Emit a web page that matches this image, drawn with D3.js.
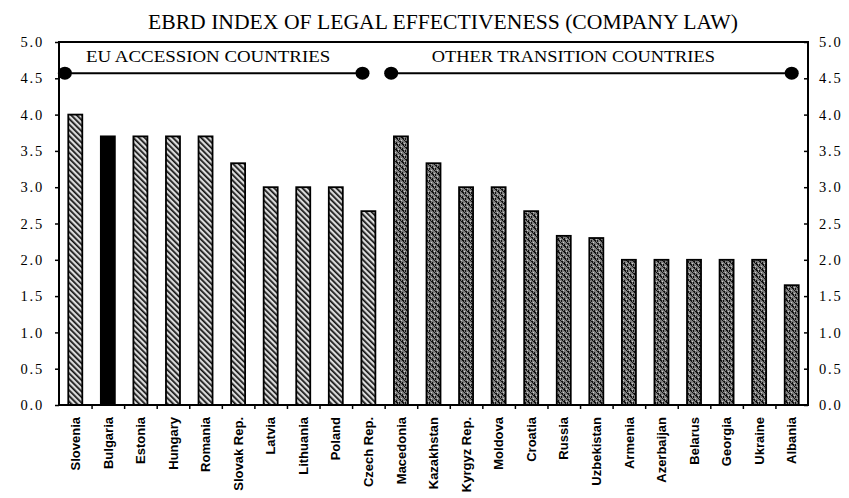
<!DOCTYPE html>
<html>
<head>
<meta charset="utf-8">
<script src="https://cdn.jsdelivr.net/npm/d3@7"></script>
<style>
  html, body { margin: 0; padding: 0; background: #fff; }
  svg { display: block; }
</style>
</head>
<body>
<svg id="chart" width="849" height="498"></svg>
<script>
// EBRD index of legal effectiveness (company law), by country
const categories = [
  "Slovenia", "Bulgaria", "Estonia", "Hungary", "Romania", "Slovak Rep.",
  "Latvia", "Lithuania", "Poland", "Czech Rep.",
  "Macedonia", "Kazakhstan", "Kyrgyz Rep.", "Moldova", "Croatia", "Russia",
  "Uzbekistan", "Armenia", "Azerbaijan", "Belarus", "Georgia", "Ukraine", "Albania"
];
const values = [
  4.0, 3.7, 3.7, 3.7, 3.7, 3.33,
  3.0, 3.0, 3.0, 2.67,
  3.7, 3.33, 3.0, 3.0, 2.67, 2.33,
  2.3, 2.0, 2.0, 2.0, 2.0, 2.0, 1.65
];
const groupOf = [
  "eu", "eu", "eu", "eu", "eu", "eu", "eu", "eu", "eu", "eu",
  "other", "other", "other", "other", "other", "other", "other",
  "other", "other", "other", "other", "other", "other"
];
const highlighted = ["Bulgaria"];
const groupLabels = ["EU ACCESSION COUNTRIES", "OTHER TRANSITION COUNTRIES"];
const yTicks = [0, 0.5, 1, 1.5, 2, 2.5, 3, 3.5, 4, 4.5, 5];
const bracketLevel = 4.57;

const svg = d3.select("#chart");
const plot = { left: 59, right: 808, top: 42, bottom: 405 };

const x = d3.scaleBand()
  .domain(categories)
  .range([plot.left, plot.right])
  .paddingInner(0.57)
  .paddingOuter(0.285);
// position along the category axis in "slot" units (0 = left edge, 23 = right edge)
const slot = d3.scaleLinear().domain([0, categories.length]).range([plot.left, plot.right]);
const y = d3.scaleLinear().domain([0, 5]).range([plot.bottom, plot.top]);

// fill patterns
const defs = svg.append("defs");
const hatch = defs.append("pattern")
  .attr("id", "hatch")
  .attr("patternUnits", "userSpaceOnUse")
  .attr("width", 4).attr("height", 4)
  .attr("patternTransform", "rotate(-45)");
hatch.append("rect").attr("width", 4).attr("height", 4).attr("fill", "#dcdcdc");
hatch.append("rect").attr("x", 0).attr("width", 1.7).attr("height", 4).attr("fill", "#111");

const speckle = defs.append("pattern")
  .attr("id", "speckle")
  .attr("patternUnits", "userSpaceOnUse")
  .attr("width", 6).attr("height", 6);
speckle.append("rect").attr("width", 6).attr("height", 6).attr("fill", "#7c7c7c");
[[0, 0, 2, 1], [3, 3, 2, 1], [1, 1, 1, 1], [4, 4, 1, 1], [0, 4, 1, 2], [3, 0, 1, 2], [2, 2, 1, 1], [5, 5, 1, 1]].forEach(([a, b, w, h]) =>
  speckle.append("rect").attr("x", a).attr("y", b).attr("width", w).attr("height", h).attr("fill", "#111"));
[[2, 5, 1, 1], [5, 2, 1, 1]].forEach(([a, b, w, h]) =>
  speckle.append("rect").attr("x", a).attr("y", b).attr("width", w).attr("height", h).attr("fill", "#c8c8c8"));

const fillFor = i => highlighted.includes(categories[i]) ? "#000"
  : groupOf[i] === "eu" ? "url(#hatch)" : "url(#speckle)";

// bars
svg.append("g").selectAll("rect")
  .data(categories)
  .join("rect")
  .attr("x", d => x(d))
  .attr("y", (d, i) => y(values[i]))
  .attr("width", x.bandwidth())
  .attr("height", (d, i) => y(0) - y(values[i]))
  .attr("fill", (d, i) => fillFor(i))
  .attr("stroke", "#000")
  .attr("stroke-width", 1.8);

// frame
svg.append("rect")
  .attr("x", plot.left).attr("y", plot.top)
  .attr("width", plot.right - plot.left).attr("height", plot.bottom - plot.top)
  .attr("fill", "none").attr("stroke", "#000").attr("stroke-width", 2);

const serif = "'Liberation Serif', 'Times New Roman', serif";

// y axes (left and right)
const fmt = d3.format(".1f");
const yLeft = svg.append("g")
  .attr("transform", `translate(${plot.left},0)`)
  .call(d3.axisLeft(y).tickValues(yTicks).tickFormat(fmt).tickSize(4).tickPadding(11));
const yRight = svg.append("g")
  .attr("transform", `translate(${plot.right},0)`)
  .call(d3.axisRight(y).tickValues(yTicks).tickFormat(fmt).tickSize(-4).tickPadding(11));
[yLeft, yRight].forEach(g => {
  g.select(".domain").remove();
  g.selectAll("line").attr("stroke", "#000").attr("stroke-width", 1.5);
  g.selectAll("text")
    .attr("fill", "#000")
    .style("font-family", serif)
    .style("font-size", "14.5px")
    .style("letter-spacing", "1.8px");
});

// x axis: ticks at slot boundaries, labels at band centres
const xTicks = svg.append("g")
  .attr("transform", `translate(0,${plot.bottom})`)
  .call(d3.axisBottom(slot).tickValues(d3.range(1, categories.length)).tickSize(4).tickFormat(""));
xTicks.select(".domain").remove();
xTicks.selectAll("line").attr("stroke", "#000").attr("stroke-width", 1.5);

const xLabels = svg.append("g")
  .attr("transform", `translate(0,${plot.bottom})`)
  .call(d3.axisBottom(x).tickSize(0).tickPadding(0));
xLabels.select(".domain").remove();
xLabels.selectAll("text")
  .attr("transform", "rotate(-90)")
  .attr("text-anchor", "end")
  .attr("x", -12)
  .attr("y", 0)
  .attr("dy", "0.36em")
  .attr("fill", "#000")
  .style("font-family", "'Liberation Sans', Arial, sans-serif")
  .style("font-weight", "bold")
  .style("font-size", "13px");

// group brackets
const brackets = [[0.18, 9.32], [10.2, 22.5]];
const by = y(bracketLevel);
brackets.forEach(([a, b]) => {
  svg.append("line")
    .attr("x1", slot(a)).attr("x2", slot(b))
    .attr("y1", by).attr("y2", by)
    .attr("stroke", "#000").attr("stroke-width", 2);
  [a, b].forEach(p => svg.append("ellipse")
    .attr("cx", slot(p)).attr("cy", by).attr("rx", 7).attr("ry", 6.5).attr("fill", "#000"));
});

// group labels
const labelSpans = [[0.83, 8.33], [11.45, 20.14]];
groupLabels.forEach((t, i) => {
  const [a, b] = labelSpans[i];
  svg.append("text")
    .attr("x", slot(a)).attr("y", 62)
    .attr("textLength", slot(b) - slot(a))
    .attr("lengthAdjust", "spacingAndGlyphs")
    .style("font-family", serif)
    .style("font-size", "16px")
    .text(t);
});

// title
svg.append("text")
  .attr("x", 148).attr("y", 29)
  .attr("textLength", 590)
  .attr("lengthAdjust", "spacingAndGlyphs")
  .style("font-family", serif)
  .style("font-size", "20px")
  .text("EBRD INDEX OF LEGAL EFFECTIVENESS (COMPANY LAW)");
</script>
</body>
</html>
